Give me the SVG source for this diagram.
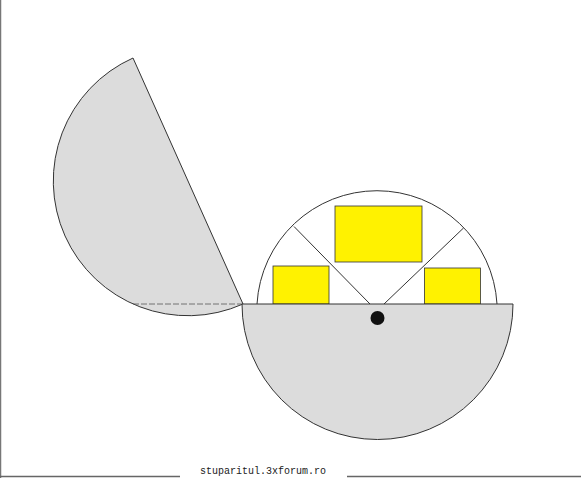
<svg xmlns="http://www.w3.org/2000/svg" width="581" height="478" viewBox="0 0 581 478">
<style>
.g{fill:#dcdcdc;stroke:#333;stroke-width:1}
.y{fill:#fff200;stroke:#333;stroke-width:0.8}
.l{fill:none;stroke:#333;stroke-width:1}
.t{font-family:"Liberation Mono",monospace;font-size:10px;fill:#222}
</style>
<rect width="581" height="478" fill="#fff"/>
<line x1="0.5" y1="0" x2="0.5" y2="478" stroke="#777" stroke-width="1.5"/>
<line x1="0" y1="476.5" x2="180" y2="476.5" stroke="#666" stroke-width="1.5"/>
<line x1="347" y1="476.5" x2="581" y2="476.5" stroke="#666" stroke-width="1.5"/>
<g id="lid">
<path class="g" d="M133,58 A134,134 0 0 0 243,304 Z"/>
<line x1="133" y1="304" x2="243" y2="304" stroke="#555" stroke-width="0.8" stroke-dasharray="6,2"/>
</g>
<g id="upper">
<path class="l" d="M257,304 A120.2,120.2 0 0 1 497,304"/>
<line class="l" x1="294" y1="226.5" x2="370" y2="304"/>
<line class="l" x1="463.5" y1="228" x2="384" y2="304"/>
<rect class="y" x="335" y="206" width="87" height="56"/>
<rect class="y" x="273" y="266" width="56" height="38"/>
<rect class="y" x="424.5" y="268" width="56" height="36"/>
</g>
<g id="base">
<path class="g" d="M242,304 A135.5,135.5 0 0 0 513,304 Z"/>
<circle cx="377.5" cy="318" r="7" fill="#111"/>
</g>
<text class="t" x="200" y="474">stuparitul.3xforum.ro</text>
</svg>
